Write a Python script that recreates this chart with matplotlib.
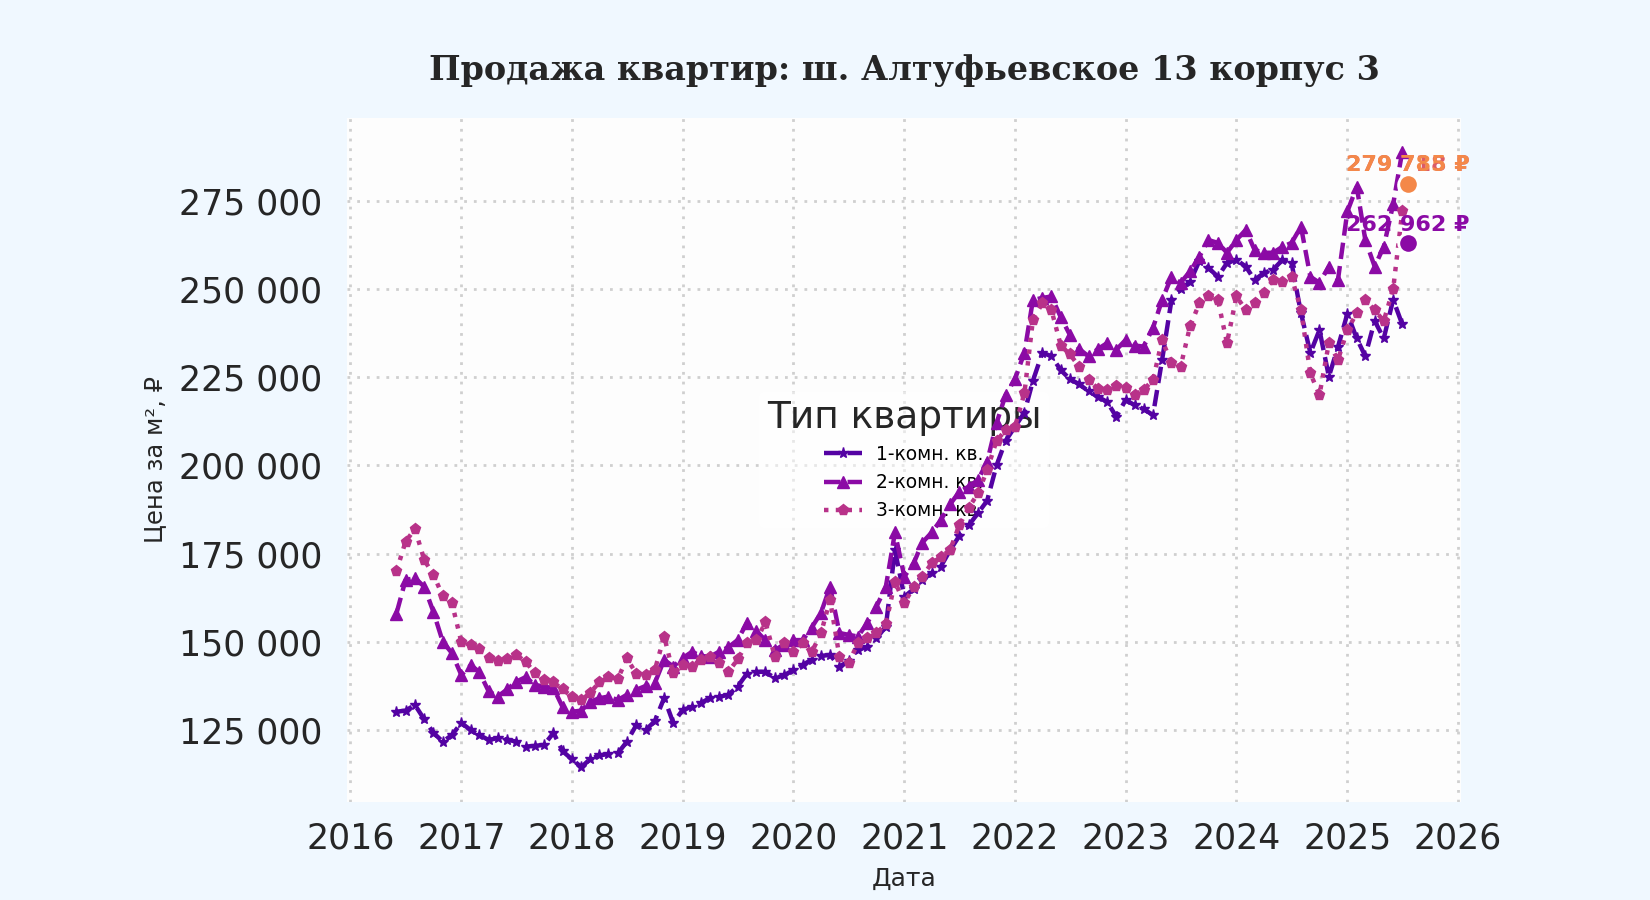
import matplotlib
matplotlib.use('Agg')
import matplotlib.pyplot as plt
import matplotlib.dates as mdates
from matplotlib.ticker import MultipleLocator, FuncFormatter
import pandas as pd

# monthly prices per m2, thousands of rubles, Jun 2016 .. Jul 2025
dates = pd.date_range('2016-06-01', '2025-07-01', freq='MS')

one_room = [
    130.2, 130.5, 132.1, 128.0, 124.2, 121.7, 123.6,
    127.0, 125.0, 123.6, 122.2, 122.7, 122.3, 121.7, 120.3, 120.5, 120.8, 124.2, 119.0,
    116.7, 114.5, 116.7, 117.8, 118.2, 118.4, 121.7, 126.4, 125.0, 127.5, 134.1, 127.0,
    130.7, 131.6, 132.6, 134.1, 134.4, 135.0, 137.3, 141.0, 141.5, 141.5, 139.7, 140.5,
    142.0, 143.5, 144.9, 146.0, 146.3, 143.0, 144.5, 147.7, 148.6, 151.0, 154.3, 176.0,
    162.8, 165.0, 167.5, 169.5, 171.3, 176.0, 180.0, 183.0, 186.5, 190.0, 200.0, 207.0,
    211.0, 215.0, 224.0, 231.9, 231.0, 227.0, 224.5, 223.0, 221.0, 219.5, 218.0, 213.8,
    218.6, 217.0, 216.0, 214.3, 229.9, 246.9, 250.0, 252.0, 258.0, 256.0, 253.5, 257.4,
    258.3, 256.4, 252.6, 254.6, 255.5, 258.3, 257.4, 243.2, 231.9, 238.4, 225.2, 233.6,
    243.0, 236.0, 231.0, 241.0, 236.0, 247.0, 240.0,
]
two_room = [
    158.0, 167.5, 168.1, 165.6, 158.5, 150.0, 146.8,
    140.6, 143.4, 141.5, 136.0, 134.5, 136.5, 138.7, 140.0, 137.8, 137.3, 136.9, 131.5,
    130.2, 130.5, 133.0, 134.0, 134.5, 133.5, 135.0, 136.4, 137.5, 138.3, 144.9, 143.0,
    145.4, 147.2, 146.0, 145.8, 147.2, 148.5, 150.5, 155.4, 153.0, 150.5, 147.7, 149.2,
    150.5, 150.5, 154.0, 158.2, 165.6, 152.5, 152.0, 151.5, 155.4, 160.0, 165.6, 181.0,
    168.5, 172.3, 178.1, 181.0, 184.5, 189.0, 192.5, 194.0, 195.9, 201.0, 212.0, 220.0,
    224.5, 232.0, 246.9, 247.5, 247.9, 242.0, 237.0, 233.0, 230.9, 233.0, 234.7, 232.8,
    235.6, 234.0, 233.7, 239.0, 246.9, 253.5, 251.8, 255.0, 259.2, 263.9, 263.1, 260.3,
    263.9, 266.8, 261.1, 260.3, 260.3, 262.0, 263.1, 267.7, 253.5, 251.8, 256.4, 252.6,
    272.0, 279.0, 264.0, 256.4, 262.0, 274.0, 289.0,
]
three_room = [
    170.0, 178.4, 182.0, 173.2, 169.0, 163.0, 161.0,
    150.0, 149.1, 148.0, 145.5, 144.5, 145.0, 146.3, 144.4, 141.1, 139.2, 138.5, 136.5,
    134.5, 133.5, 135.5, 138.5, 140.0, 139.5, 145.3, 141.0, 140.6, 142.0, 151.5, 141.1,
    143.4, 143.0, 144.9, 145.8, 144.0, 141.5, 145.0, 149.6, 150.5, 155.5, 145.8, 149.6,
    147.0, 149.6, 147.0, 152.4, 161.9, 145.8, 144.0, 149.6, 151.0, 152.5, 155.0, 167.0,
    161.0, 165.6, 168.5, 172.3, 174.0, 176.1, 183.0, 188.0, 192.1, 198.7, 207.0, 210.0,
    211.0, 220.5, 241.3, 246.0, 244.1, 234.0, 231.5, 228.0, 224.2, 221.8, 221.4, 222.4,
    222.0, 220.0, 221.5, 224.2, 235.6, 229.0, 228.0, 239.4, 246.0, 247.9, 247.0, 234.7,
    247.9, 244.1, 246.0, 248.8, 252.6, 252.0, 253.5, 244.1, 226.1, 220.0, 234.7, 229.9,
    238.4, 243.2, 247.0, 244.0, 241.0, 250.0, 272.0,
]

labels = ['1-комн. кв.', '2-комн. кв.', '3-комн. кв.']
colors = ['#5402a3', '#8b0aa5', '#b83289']
markers = ['*', '^', 'p']
styles = ['--', '--', ':']

# last-value callouts
last_date = pd.Timestamp('2025-07-19')
last_values = [279218, 279785, 262962]
last_texts = ['279 718 ₽', '279 785 ₽', '262 962 ₽']
last_colors = ['#db5c68', '#f48849', '#8b0aa5']
last_offsets = [15, 13.5, 13.5]

fig = plt.figure(figsize=(16.5, 9), dpi=100, facecolor='#f0f8ff')
ax = fig.add_axes([0.2103, 0.1089, 0.6752, 0.76])
ax.set_facecolor('#fdfdfd')

series = [one_room, two_room, three_room]
for vals, lab, c, m, ls in zip(series, labels, colors, markers, styles):
    ax.plot(dates, [v * 1000 for v in vals], color=c, marker=m, linestyle=ls,
            linewidth=3.2, markersize=8, label=lab, zorder=3)

for v, t, c, off in zip(last_values, last_texts, last_colors, last_offsets):
    ax.plot([last_date], [v], marker='o', markersize=14, color=c,
            markeredgecolor='white', markeredgewidth=2, zorder=6)
    ax.annotate(t, (last_date, v), xytext=(0, off), textcoords='offset points',
                ha='center', va='center', fontsize=16, fontweight='bold', color=c, zorder=7)

ax.set_xlim(pd.Timestamp('2015-12-21'), pd.Timestamp('2026-01-11'))
ax.set_ylim(104600, 298500)
ax.xaxis.set_major_locator(mdates.YearLocator())
ax.xaxis.set_major_formatter(mdates.DateFormatter('%Y'))
ax.yaxis.set_major_locator(MultipleLocator(25000))
ax.yaxis.set_major_formatter(FuncFormatter(lambda v, p: f'{v:,.0f}'.replace(',', ' ')))

ax.grid(True, color='#cfcfcf', linestyle=(0, (1, 2.5)), linewidth=2)
for s in ax.spines.values():
    s.set_visible(False)
ax.tick_params(length=0, labelsize=25, labelcolor='#262626')
ax.tick_params(axis='y', pad=18)
ax.tick_params(axis='x', pad=14)

ax.set_title('Продажа квартир: ш. Алтуфьевское 13 корпус 3', family='DejaVu Serif',
             fontweight='bold', fontsize=24, color='#262626', pad=27)
ax.set_xlabel('Дата', fontsize=18, color='#262626', labelpad=8)
ax.set_ylabel('Цена за м², ₽', fontsize=17.5, color='#262626', labelpad=8)

leg = ax.legend(title='Тип квартиры', loc='center', fontsize=13.4, title_fontsize=27,
                frameon=True, facecolor='white', edgecolor='none', framealpha=0.5)
leg.get_title().set_color('#262626')
leg.set_zorder(2.5)

fig.savefig('out.png', dpi=100, facecolor=fig.get_facecolor())
